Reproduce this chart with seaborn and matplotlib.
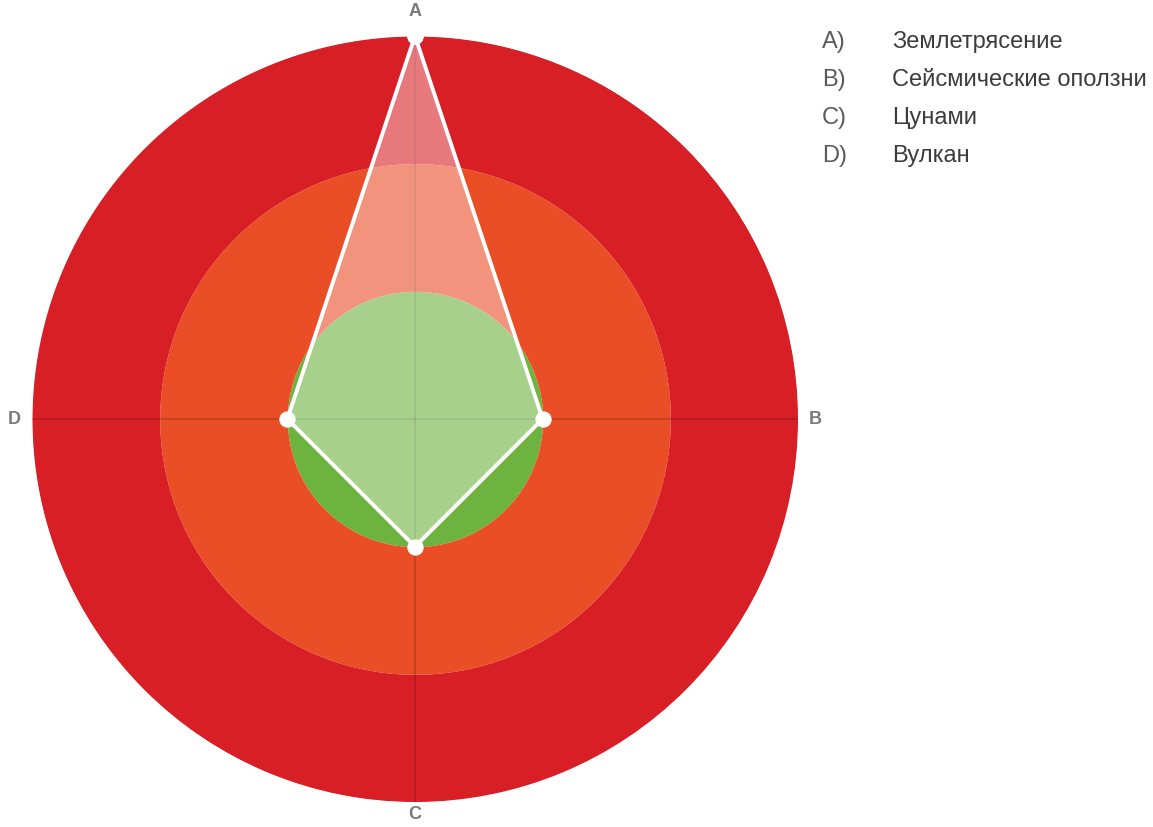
import numpy as np
import pandas as pd
import matplotlib
matplotlib.use("Agg")
import matplotlib.pyplot as plt
import seaborn as sns

categories = ["A", "B", "C", "D"]
values = [3, 1, 1, 1]
band_levels = [1, 2, 3]
band_colors = ["#6DB33F", "#EA4E27", "#D81F26"]
legend_keys = ["A)", "B)", "C)", "D)"]
legend_labels = ["Землетрясение", "Сейсмические оползни", "Цунами", "Вулкан"]

sns.set_theme(style="white")
plt.rcParams['font.family'] = ['Liberation Sans', 'DejaVu Sans']

fig = plt.figure(figsize=(11.53, 8.28), dpi=100)
ax = fig.add_axes([32/1153, 25/828, 766/1153, 766/828], projection="polar")
ax.set_theta_offset(np.pi/2)
ax.set_theta_direction(-1)
ax.set_ylim(0, 3)

th = np.linspace(0, 2*np.pi, 721)
prev = 0
for lvl, col in zip(band_levels, band_colors):
    ax.fill_between(th, prev, lvl, color=col, linewidth=0, zorder=1)
    prev = lvl

angles = np.linspace(0, 2*np.pi, len(categories), endpoint=False)
for a in angles:
    ax.plot([a, a], [0, 3], color=(0, 0, 0, 0.18), linewidth=1.2, zorder=2)

df = pd.DataFrame({"theta": list(angles) + [2*np.pi], "r": values + [values[0]]})
ax.fill(df["theta"], df["r"], color="white", alpha=0.4, linewidth=0, zorder=3)
sns.lineplot(data=df, x="theta", y="r", sort=False, estimator=None, ax=ax, color="white",
             linewidth=2.8, marker="o", markersize=11, markeredgecolor="white",
             zorder=4, clip_on=False)

ax.set_xticks(angles)
ax.set_xticklabels([])
ax.set_yticks([])
ax.grid(False)
ax.spines["polar"].set_visible(False)
ax.set_xlabel("")
ax.set_ylabel("")

# axis letters placed just outside the outer ring
offsets = {0: (0, 25), 1: (17, 0), 2: (0, -12), 3: (-18, 0)}
for i, (a, cat) in enumerate(zip(angles, categories)):
    dx, dy = offsets[i]
    ax.annotate(cat, xy=(a, 3), xytext=(dx, dy), textcoords="offset pixels",
                ha="center", va="center", fontsize=13, color="#7a7a7a",
                fontweight="bold", annotation_clip=False)

ys = [42, 80, 118, 156]
for k, lab, y in zip(legend_keys, legend_labels, ys):
    fig.text(822/1153, 1 - y/828, k, fontsize=17, color="#5a5a5a",
             family=["Liberation Sans Narrow", "Liberation Sans"], va="center")
    fig.text(892/1153, 1 - y/828, lab, fontsize=17, color="#3c3c3c", va="center")

fig.savefig("out.png", dpi=100)
